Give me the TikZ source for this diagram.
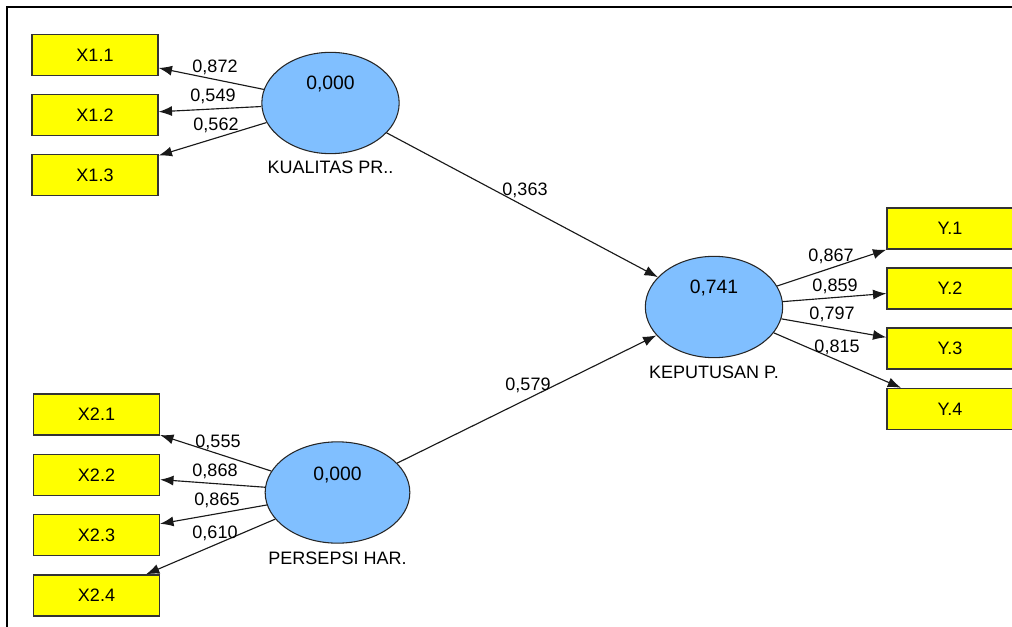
\documentclass[tikz,border=0pt]{standalone}
\usepackage{fontspec}
\setmainfont{Liberation Sans}
\usepackage{tikz}
\usetikzlibrary{shapes,arrows.meta,positioning}
\definecolor{lvblue}{RGB}{128,191,255}
\definecolor{mvyellow}{RGB}{255,255,0}
\tikzstyle{mv}=[rectangle, draw=black!80, fill=mvyellow, line width=1pt,
        minimum width=94.5pt, minimum height=30.75pt, inner sep=0pt, font=\fontsize{13.5}{15}\selectfont]
\tikzstyle{lv}=[ellipse, draw=black!85, fill=lvblue, line width=0.8pt,
        minimum width=103pt, minimum height=76pt, inner sep=0pt]
\tikzstyle{lvval}=[inner sep=0pt, font=\fontsize{14.5}{16}\selectfont]
\tikzstyle{lvname}=[inner sep=0pt, font=\fontsize{13.5}{16}\selectfont]
\tikzstyle{load}=[inner sep=0pt, font=\fontsize{13.5}{16}\selectfont]
\tikzstyle{link}=[draw=black!90, line width=0.85pt, -{Latex[length=10pt,width=7.5pt]}]

\begin{document}
\begin{tikzpicture}[x=0.75pt, y=-0.75pt]
\useasboundingbox (0,0) rectangle (1012,627);
\clip (0,0) rectangle (1012,627);
\draw[line width=1.5pt] (7,627) -- (7,7) -- (1012,7);

% latent variables
\node [lv] (kp) at (330.5,103) {};
\node [lv, minimum width=108.5pt] (ph) at (337.5,492.5) {};
\node [lv] (kep) at (714,307) {};
\node [lvval] (kpv) at (330.5,84) {0,000};
\node [lvval] (phv) at (337.5,475) {0,000};
\node [lvval] (kepv) at (714,288) {0,741};
\node [lvname] (kpn) at (330.5,167) {KUALITAS PR..};
\node [lvname] (phn) at (337.5,558) {PERSEPSI HAR.};
\node [lvname] (kepn) at (714,372) {KEPUTUSAN P.};

% indicators
\node [mv] (x11) at (95,55) {X1.1};
\node [mv] (x12) at (95,115) {X1.2};
\node [mv] (x13) at (95,175) {X1.3};
\node [mv] (x21) at (96.5,414.5) {X2.1};
\node [mv] (x22) at (96.5,475) {X2.2};
\node [mv] (x23) at (96.5,535) {X2.3};
\node [mv] (x24) at (96.5,595.5) {X2.4};
\node [mv] (y1) at (950,228.5) {Y.1};
\node [mv] (y2) at (950,288.5) {Y.2};
\node [mv] (y3) at (950,348.5) {Y.3};
\node [mv] (y4) at (950,409) {Y.4};

% outer loadings
\draw [link] (kp) -- (x11);
\draw [link] (kp) -- (x12);
\draw [link] (kp) -- (x13);
\draw [link] (ph) -- (x21);
\draw [link] (ph) -- (x22);
\draw [link] (ph) -- (x23);
\draw [link] (ph) -- (x24);
\draw [link] (kep) -- (y1);
\draw [link] (kep) -- (y2);
\draw [link] (kep) -- (y3);
\draw [link] (kep) -- (y4);
% inner model
\draw [link] (kp) -- (kep);
\draw [link] (ph) -- (kep);

\node [load] (l11) at (215,67) {0,872};
\node [load] (l12) at (213,96) {0,549};
\node [load] (l13) at (216,125) {0,562};
\node [load] (l21) at (218,442) {0,555};
\node [load] (l22) at (215,471) {0,868};
\node [load] (l23) at (217,500) {0,865};
\node [load] (l24) at (215,533) {0,610};
\node [load] (ly1) at (831,256) {0,867};
\node [load] (ly2) at (835,286) {0,859};
\node [load] (ly3) at (832,314) {0,797};
\node [load] (ly4) at (837,347) {0,815};
\node [load] (lkp) at (525,190) {0,363};
\node [load] (lph) at (528,385) {0,579};
\end{tikzpicture}
\end{document}
